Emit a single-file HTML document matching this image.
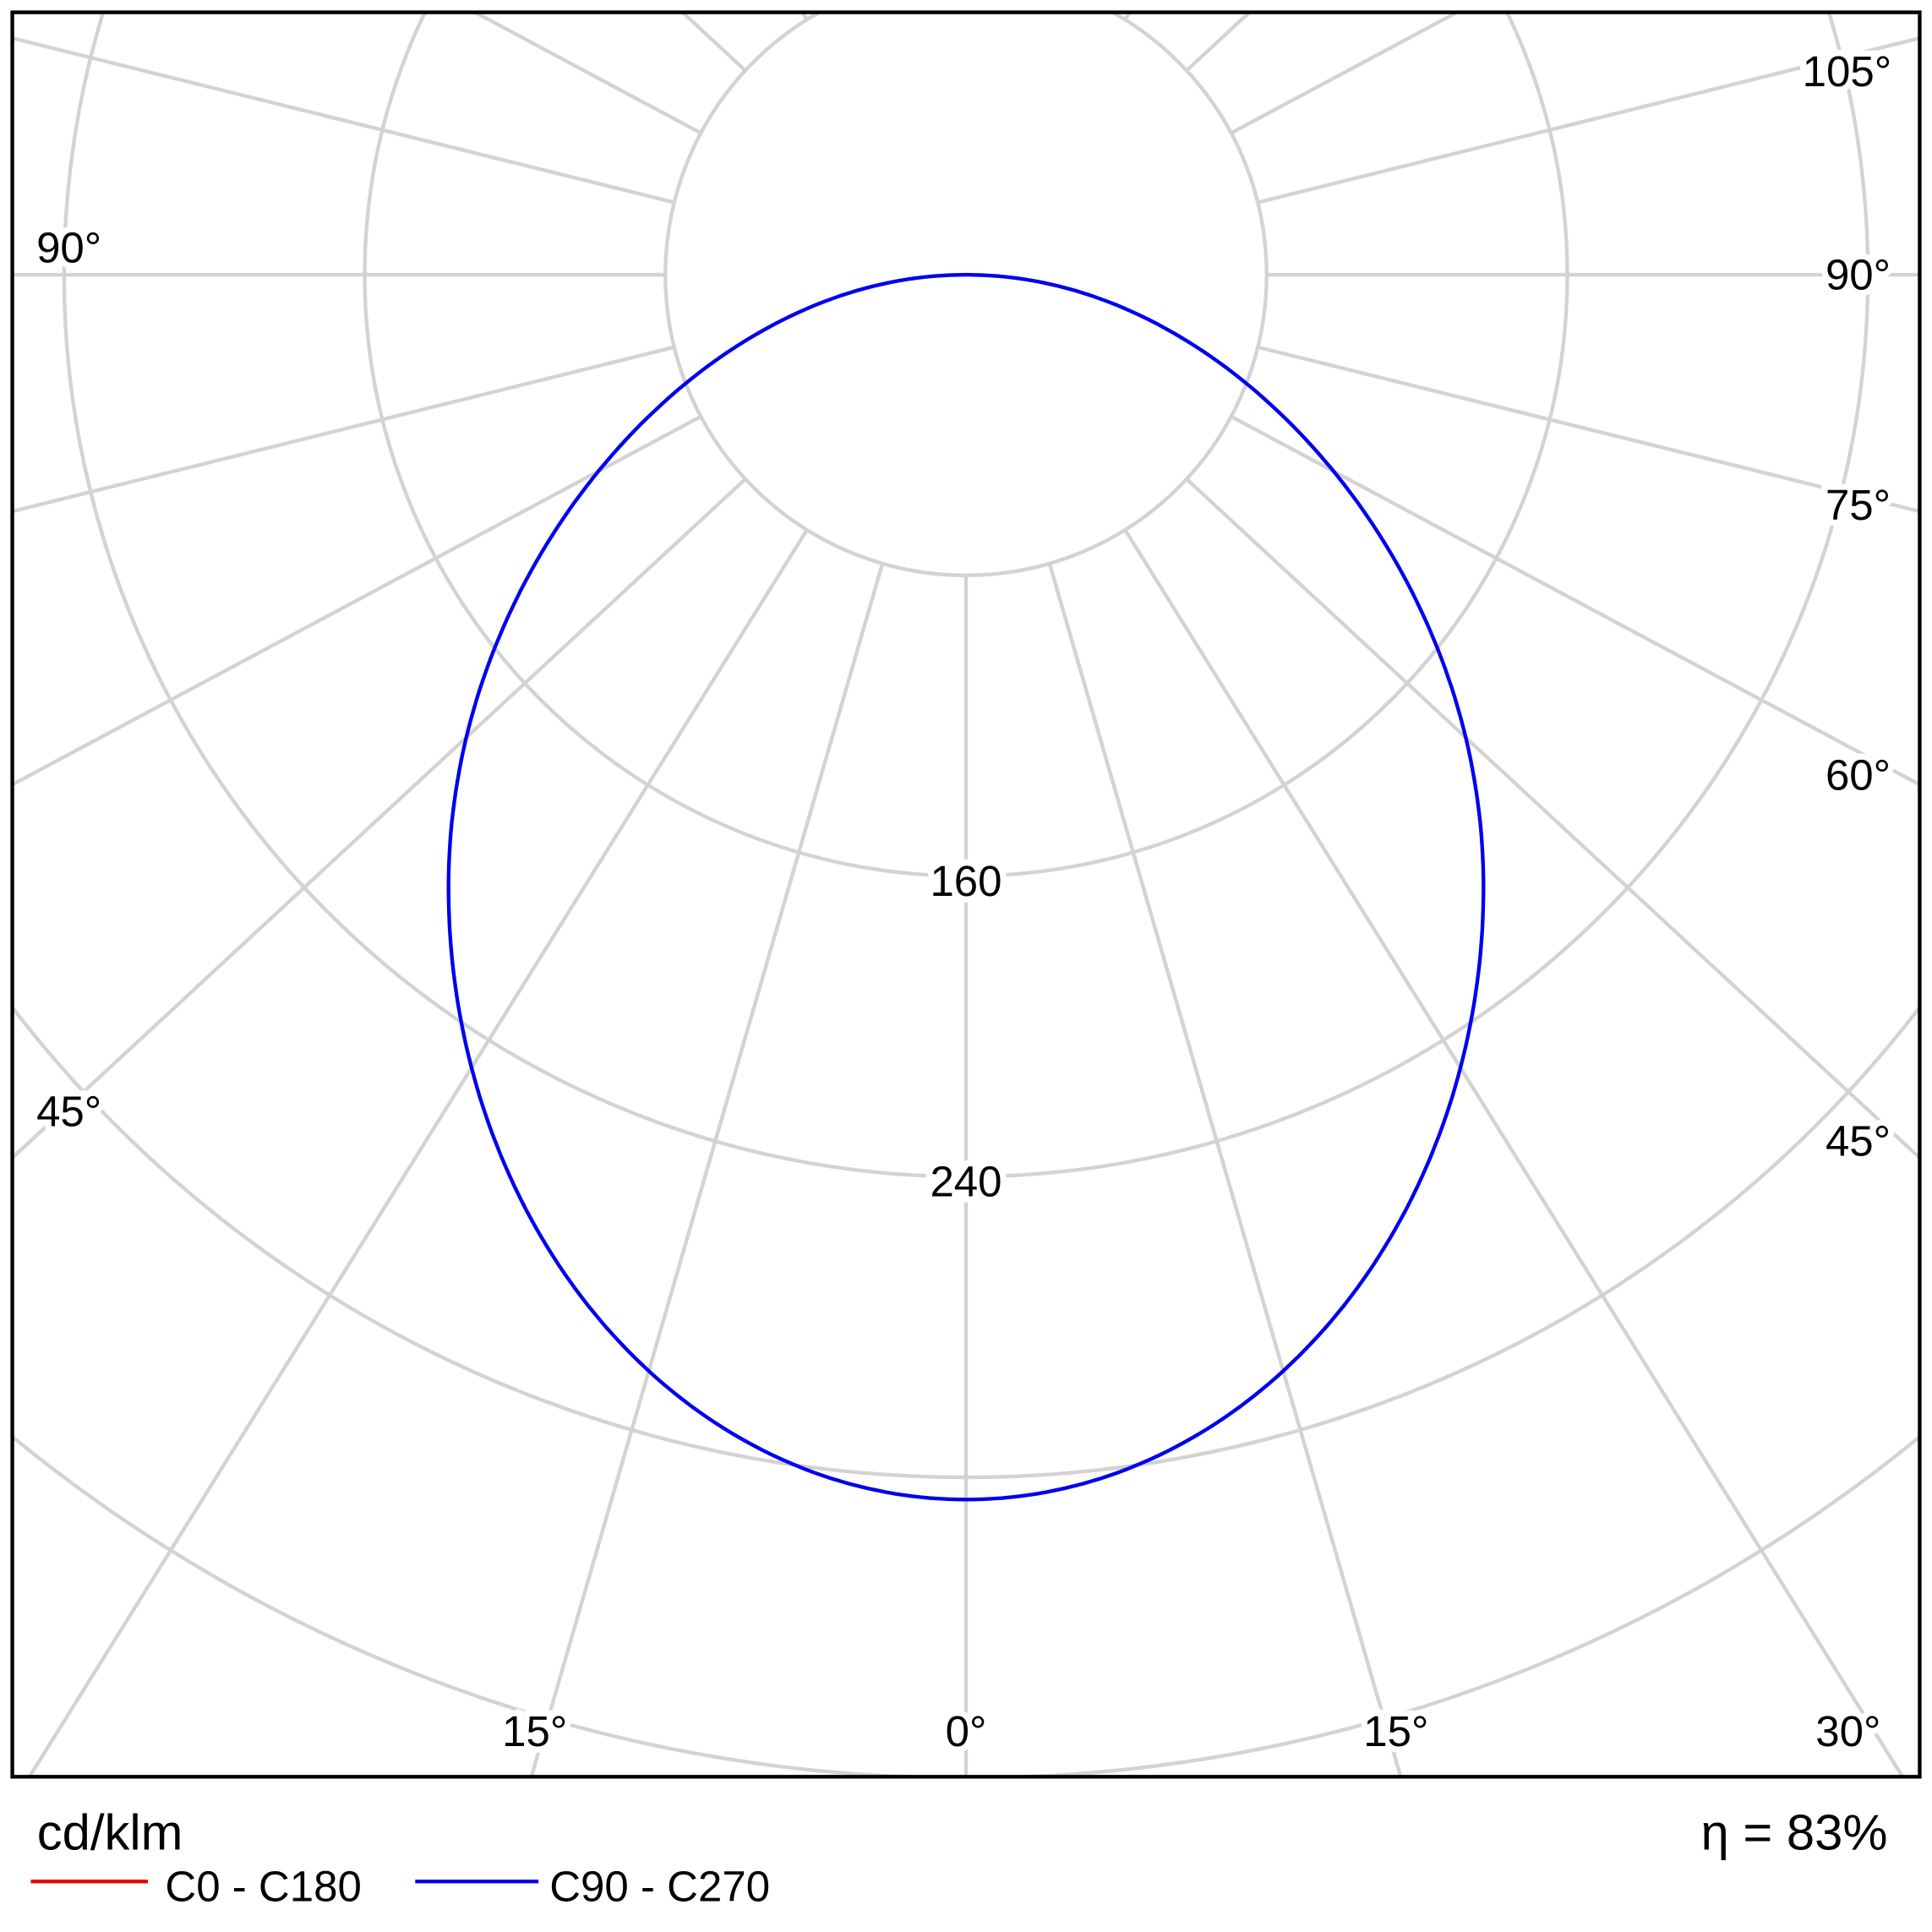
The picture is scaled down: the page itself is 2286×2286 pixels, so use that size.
<!DOCTYPE html>
<html><head><meta charset="utf-8"><style>html,body{margin:0;padding:0;background:#fff;overflow:hidden;width:2286px;height:2286px}svg{display:block;position:absolute;left:0;top:0}</style></head>
<body>
<svg id="s" width="2286" height="2286" viewBox="0 0 1568 1568" xmlns="http://www.w3.org/2000/svg">
<defs><clipPath id="c"><rect x="10" y="10" width="1548" height="1432"/></clipPath></defs>
<rect width="1568" height="1568" fill="#fff"/>
<g clip-path="url(#c)" stroke="#d3d3d3" stroke-width="3" fill="none" id="grid">
<circle cx="784" cy="223" r="244"/>
<circle cx="784" cy="223" r="488"/>
<circle cx="784" cy="223" r="732"/>
<circle cx="784" cy="223" r="976"/>
<circle cx="784" cy="223" r="1220"/>
<circle cx="784" cy="223" r="1464"/>
</g>
<path id="curve" fill="none" stroke="#0000ee" stroke-width="3" stroke-linejoin="round"/>
<g font-family="Liberation Sans, sans-serif" font-size="35" fill="#000" text-anchor="middle" stroke="#fff" stroke-width="10" paint-order="stroke">
<text x="56" y="213">90°</text>
<text x="1508" y="235">90°</text>
<text x="1499" y="70">105°</text>
<text x="1508" y="422">75°</text>
<text x="1508" y="641">60°</text>
<text x="1508" y="938">45°</text>
<text x="56" y="914">45°</text>
<text x="434" y="1417">15°</text>
<text x="784" y="1417">0°</text>
<text x="1133" y="1417">15°</text>
<text x="1500" y="1417">30°</text>
<text x="784" y="727">160</text>
<text x="784" y="971">240</text>
</g>
<rect x="10" y="10" width="1548" height="1432" fill="none" stroke="#000" stroke-width="3"/>
<g font-family="Liberation Sans, sans-serif" fill="#000">
<text x="30" y="1501" font-size="41">cd/klm</text>
<text x="1532" y="1501" font-size="41" text-anchor="end">η = 83%</text>
<line x1="25" y1="1527" x2="120" y2="1527" stroke="#ee0000" stroke-width="3"/>
<text x="134" y="1543" font-size="35">C0 - C180</text>
<line x1="337" y1="1527" x2="437" y2="1527" stroke="#0000ee" stroke-width="3"/>
<text x="446" y="1543" font-size="35">C90 - C270</text>
</g>
</svg>
<script>
var NS="http://www.w3.org/2000/svg",g=document.getElementById("grid");
for(var i=0;i<24;i++){var t=i*15*Math.PI/180,dx=1.08*Math.sin(t),dy=Math.cos(t),n=Math.hypot(dx,dy);dx/=n;dy/=n;
var l=document.createElementNS(NS,"line");l.setAttribute("x1",784+244*dx);l.setAttribute("y1",223+244*dy);
l.setAttribute("x2",784+3000*dx);l.setAttribute("y2",223+3000*dy);g.appendChild(l);}
var pts=[];
for(var s=0;s<=360;s++){var a=s*Math.PI/180,tt=-Math.cos(a),w=Math.sin(a);
var f=1-0.07*Math.pow(Math.max(0,-tt),2);
pts.push((784+420*w*f).toFixed(1)+","+(720+497*tt).toFixed(1));}
document.getElementById("curve").setAttribute("d","M"+pts.join(" L")+"Z");
</script>
</body></html>
